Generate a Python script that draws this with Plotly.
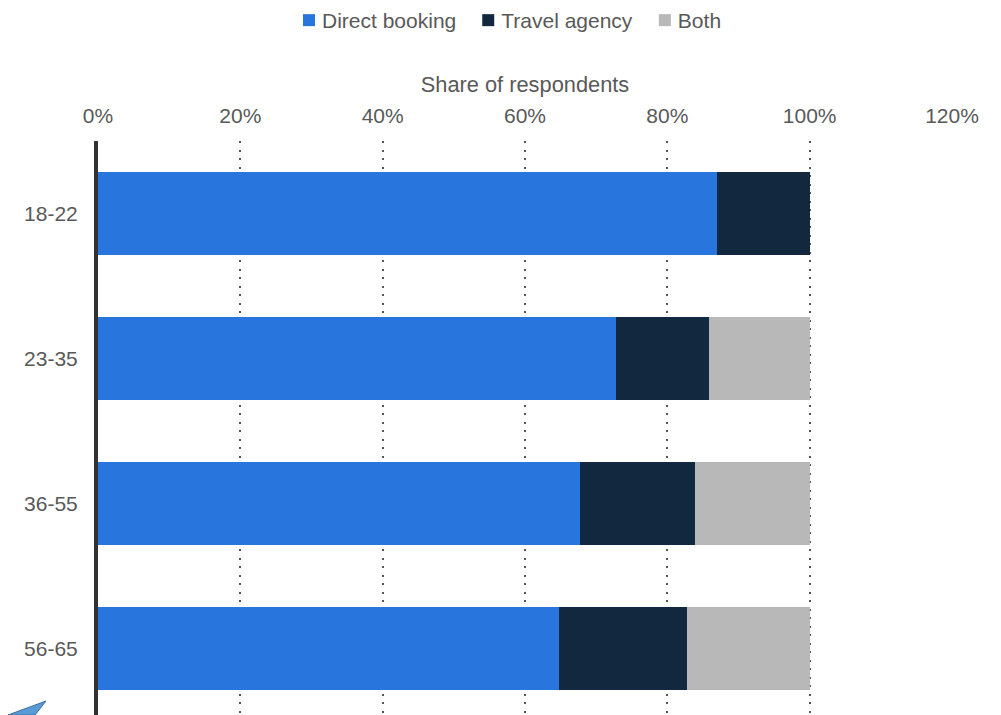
import plotly.graph_objects as go

age_groups = ["18-22", "23-35", "36-55", "56-65"]
direct_booking = [87, 72.8, 67.7, 64.8]
travel_agency = [13, 13, 16.2, 17.9]
both = [0, 14.2, 16.1, 17.3]
tick_values = [0, 20, 40, 60, 80, 100, 120]
tick_labels = ["0%", "20%", "40%", "60%", "80%", "100%", "120%"]

FONT = "Liberation Sans"
TEXT = "#595959"

fig = go.Figure()
for name, vals, col in [("Direct booking", direct_booking, "#2875DE"),
                        ("Travel agency", travel_agency, "#12283F"),
                        ("Both", both, "#B8B8B8")]:
    fig.add_bar(y=age_groups, x=vals, name=name, orientation="h",
                marker=dict(color=col, line=dict(width=0)), hoverinfo="skip")

fig.update_layout(
    width=1001, height=715, barmode="stack", bargap=0.428,
    margin=dict(l=98, r=49, t=141, b=0, pad=0, autoexpand=False),
    paper_bgcolor="white", plot_bgcolor="white",
    font=dict(family=FONT, size=21, color=TEXT),
    showlegend=True,
    legend=dict(orientation="h", x=0.476, xref="paper", xanchor="center", y=1.0, yref="container",
                yanchor="top", font=dict(size=21, color=TEXT), itemwidth=30, traceorder="normal"),
    xaxis=dict(side="top", range=[0, 120], tickvals=tick_values, ticktext=tick_labels,
               showgrid=True, gridcolor="#555555", gridwidth=2, griddash="2px,6.5px",
               zeroline=False, showline=False, ticks="", ticklabelstandoff=13,
               title=dict(text="Share of respondents", standoff=5, font=dict(size=21.8, color=TEXT))),
    yaxis=dict(categoryorder="array", categoryarray=age_groups, range=[3.455, -0.5],
               showgrid=False, zeroline=False, showline=True, linecolor="#323232", linewidth=4,
               ticks="", ticklabelstandoff=12),
)
# small corner arrow decoration in the lower left, placed in pixels from the plot's corner
fig.add_shape(type="path", xref="paper", yref="paper", xsizemode="pixel", ysizemode="pixel",
              xanchor=0, yanchor=0, path="M -52 14 L -90 0 L -63 0 Z",
              fillcolor="#5B9BD5", line=dict(color="#3A6EA5", width=1), layer="above")

post = """
document.body.style.margin='0';document.body.style.overflow='hidden';
document.querySelectorAll('.legend .legendpoints').forEach(function(g){g.setAttribute('transform','translate(7,0)');});
"""
fig.write_html("out.html", post_script=post, config={"displayModeBar": False})
